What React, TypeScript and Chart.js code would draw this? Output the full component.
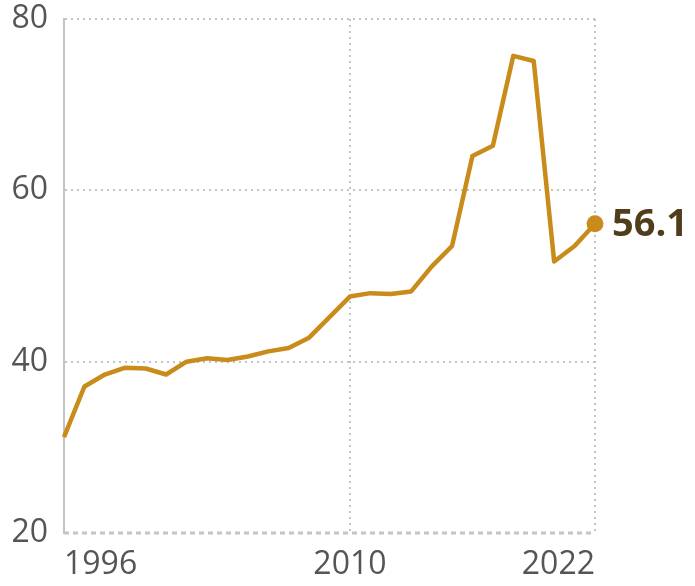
import React, { useEffect, useRef } from "react";
import { Chart, registerables } from "chart.js";

Chart.register(...registerables);

const years: number[] = [
  1996, 1997, 1998, 1999, 2000, 2001, 2002, 2003, 2004, 2005, 2006, 2007, 2008,
  2009, 2010, 2011, 2012, 2013, 2014, 2015, 2016, 2017, 2018, 2019, 2020, 2021, 2022,
];
const values: number[] = [
  31.2, 37.1, 38.5, 39.3, 39.2, 38.5, 40.0, 40.4, 40.2, 40.6, 41.2, 41.6, 42.8,
  45.2, 47.6, 48.0, 47.9, 48.2, 51.1, 53.5, 64.0, 65.2, 75.7, 75.1, 51.7, 53.5, 56.1,
];
const xTickYears: number[] = [1996, 2010, 2022];
const yTicks: number[] = [20, 40, 60, 80];
const endLabel = "56.1";

const LINE = "#c98b1a";
const GRID = "#c4c4c4";
const TEXT = "#555555";
const FONT = "'Open Sans', 'Noto Sans', sans-serif";

export default function App() {
  const ref = useRef<HTMLCanvasElement | null>(null);

  useEffect(() => {
    if (!ref.current) return;
    const data = years.map((y, i) => ({ x: y, y: values[i] }));
    const lastIdx = data.length - 1;

    const endLabelPlugin = {
      id: "endLabel",
      beforeDatasetsDraw(chart: any) {
        const a = chart.chartArea;
        const ctx = chart.ctx;
        ctx.save();
        ctx.strokeStyle = GRID;
        ctx.lineWidth = 3;
        ctx.setLineDash([5, 4]);
        ctx.beginPath();
        ctx.moveTo(a.left, a.bottom);
        ctx.lineTo(a.right, a.bottom);
        ctx.stroke();
        ctx.restore();
      },
      afterDatasetsDraw(chart: any) {
        const meta = chart.getDatasetMeta(0);
        const pt = meta.data[lastIdx];
        if (!pt) return;
        const ctx = chart.ctx;
        ctx.save();
        ctx.font = `bold 38px ${FONT}`;
        ctx.fillStyle = "#4f3d1c";
        ctx.textAlign = "left";
        ctx.textBaseline = "middle";
        ctx.fillText(endLabel, pt.x + 17, pt.y + 1);
        ctx.restore();
      },
    };

    const chart = new Chart(ref.current, {
      type: "line",
      data: {
        datasets: [
          {
            data,
            borderColor: LINE,
            backgroundColor: LINE,
            borderWidth: 4.5,
            tension: 0,
            borderJoinStyle: "round",
            pointRadius: data.map((_, i) => (i === lastIdx ? 8.5 : 0)),
            pointHoverRadius: 0,
            pointBorderWidth: 0,
            clip: false as any,
          },
        ],
      },
      options: {
        responsive: false,
        animation: false,
        events: [],
        layout: { padding: { top: 19, right: 100, left: 0, bottom: 0 } },
        plugins: {
          legend: { display: false },
          tooltip: { enabled: false },
        },
        scales: {
          x: {
            type: "linear",
            min: 1996,
            max: 2022,
            afterBuildTicks: (scale: any) => {
              scale.ticks = xTickYears.map((v) => ({ value: v }));
            },
            afterFit: (scale: any) => {
              scale.height = 53;
              scale.paddingLeft = 0;
              scale.paddingRight = 0;
            },
            ticks: {
              align: "inner",
              padding: 13,
              color: TEXT,
              font: { family: FONT, size: 32 },
              maxRotation: 0,
              autoSkip: false,
              callback: (v: any) => String(v),
            },
            grid: {
              color: GRID,
              lineWidth: 2,
              drawTicks: false,
            },
            border: {
              display: false,
              dash: [2, 4],
            },
          },
          y: {
            min: 20,
            max: 80,
            afterBuildTicks: (scale: any) => {
              scale.ticks = yTicks.map((v) => ({ value: v }));
            },
            afterFit: (scale: any) => {
              scale.width = 64;
              scale.paddingTop = 0;
              scale.paddingBottom = 0;
            },
            ticks: {
              padding: 16,
              color: TEXT,
              font: { family: FONT, size: 32 },
            },
            grid: {
              color: (c: any) => (c.tick && c.tick.value === 20 ? "rgba(0,0,0,0)" : GRID),
              lineWidth: 2,
              drawTicks: false,
            },
            border: {
              display: true,
              color: GRID,
              width: 2,
              dash: [2, 4],
            },
          },
        },
      },
      plugins: [endLabelPlugin],
    });

    return () => chart.destroy();
  }, []);

  return (
    <div style={{ position: "absolute", left: 0, top: 0, width: 695, height: 586, background: "#fff" }}>
      <canvas ref={ref} width={695} height={586} style={{ display: "block", width: 695, height: 586 }} />
    </div>
  );
}
